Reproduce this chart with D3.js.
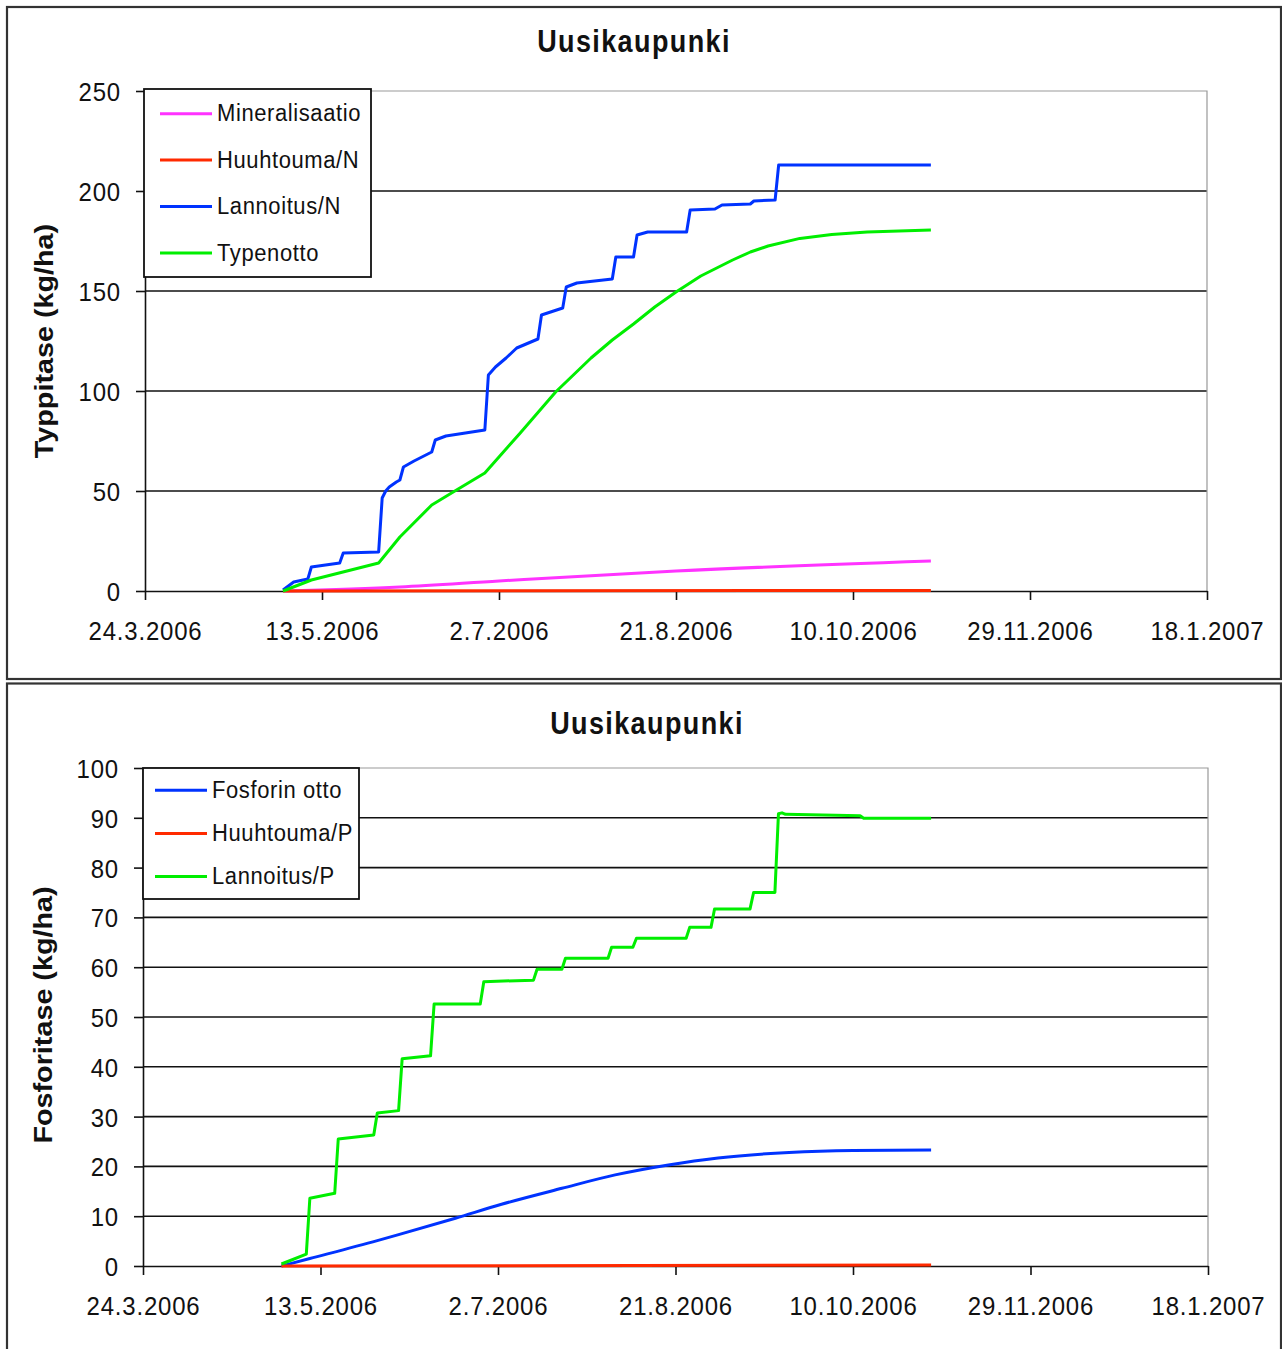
<!DOCTYPE html>
<html>
<head>
<meta charset="utf-8">
<script src="https://cdn.jsdelivr.net/npm/d3@7"></script>
<style>
  body { margin: 0; background: #fff; }
  svg { display: block; }
  text { font-family: "Liberation Sans", Arial, sans-serif; fill: #111; }
</style>
</head>
<body>
<svg id="chart" width="1282" height="1349"></svg>
<script>
// ---- shared x-axis (dates, 50-day steps) ----
const dateTicks = ["2006-03-24", "2006-05-13", "2006-07-02", "2006-08-21", "2006-10-10", "2006-11-29", "2007-01-18"];

// ---- nitrogen balance, kg/ha ----
const nTicks = [0, 50, 100, 150, 200, 250];
const nNames = ["Mineralisaatio", "Huuhtouma/N", "Lannoitus/N", "Typenotto"];

const mineralisaatio = [
  ["2006-05-02", 0], ["2006-06-04", 2], ["2006-07-02", 5],
  ["2006-08-21", 10], ["2006-11-01", 15]
];
const huuhtoumaN = [["2006-05-02", 0], ["2006-11-01", 0.3]];
const lannoitusN = [
  ["2006-05-02", 0.5], ["2006-05-05", 4.5], ["2006-05-09", 6], ["2006-05-10", 12],
  ["2006-05-12", 12.5], ["2006-05-18", 14], ["2006-05-19", 19], ["2006-05-29", 19.5],
  ["2006-05-30", 46.5], ["2006-05-31", 50], ["2006-06-01", 52], ["2006-06-03", 54.5],
  ["2006-06-04", 55.5], ["2006-06-05", 62], ["2006-06-08", 65], ["2006-06-13", 69.5],
  ["2006-06-14", 75.5], ["2006-06-17", 77.5], ["2006-06-28", 80.5], ["2006-06-29", 108],
  ["2006-07-01", 112], ["2006-07-04", 116.5], ["2006-07-07", 121.5], ["2006-07-13", 126],
  ["2006-07-14", 138], ["2006-07-20", 141.5], ["2006-07-21", 152], ["2006-07-24", 154],
  ["2006-08-03", 156], ["2006-08-04", 167], ["2006-08-09", 167], ["2006-08-10", 178],
  ["2006-08-13", 179.5], ["2006-08-24", 179.5], ["2006-08-25", 190.5], ["2006-09-01", 191],
  ["2006-09-03", 193], ["2006-09-11", 193.5], ["2006-09-12", 195], ["2006-09-18", 195.5],
  ["2006-09-19", 213], ["2006-11-01", 213]
];
const typenotto = [
  ["2006-05-02", 0], ["2006-05-10", 5.5], ["2006-05-29", 14], ["2006-06-04", 27],
  ["2006-06-13", 43], ["2006-06-20", 50.5], ["2006-06-28", 59], ["2006-07-08", 79],
  ["2006-07-18", 99.5], ["2006-07-28", 116.5], ["2006-08-03", 125.5], ["2006-08-09", 133.5],
  ["2006-08-15", 142], ["2006-08-21", 149.5], ["2006-08-28", 157.5], ["2006-09-06", 165.5],
  ["2006-09-11", 169.5], ["2006-09-16", 172.5], ["2006-09-25", 176.3], ["2006-10-04", 178.3],
  ["2006-10-14", 179.5], ["2006-11-01", 180.5]
];

// ---- phosphorus balance, kg/ha ----
const pTicks = [0, 10, 20, 30, 40, 50, 60, 70, 80, 90, 100];
const pNames = ["Fosforin otto", "Huuhtouma/P", "Lannoitus/P"];

const fosforinOtto = [
  ["2006-05-02", 0], ["2006-05-10", 1.5], ["2006-05-29", 5.1], ["2006-06-04", 6.3],
  ["2006-06-20", 9.6], ["2006-07-03", 12.4], ["2006-07-20", 15.6], ["2006-08-04", 18.3],
  ["2006-08-19", 20.3], ["2006-09-02", 21.7], ["2006-09-22", 22.8], ["2006-10-10", 23.2],
  ["2006-11-01", 23.3]
];
const huuhtoumaP = [["2006-05-02", 0], ["2006-11-01", 0.2]];
const lannoitusP = [
  ["2006-05-02", 0.4], ["2006-05-09", 2.4], ["2006-05-10", 13.6], ["2006-05-17", 14.6],
  ["2006-05-18", 25.5], ["2006-05-28", 26.3], ["2006-05-29", 30.7], ["2006-06-04", 31.2],
  ["2006-06-05", 41.6], ["2006-06-13", 42.2], ["2006-06-14", 52.6], ["2006-06-27", 52.6],
  ["2006-06-28", 57.1], ["2006-07-12", 57.4], ["2006-07-13", 59.6], ["2006-07-20", 59.6],
  ["2006-07-21", 61.8], ["2006-08-02", 61.8], ["2006-08-03", 64], ["2006-08-09", 64],
  ["2006-08-10", 65.8], ["2006-08-24", 65.8], ["2006-08-25", 68], ["2006-08-31", 68],
  ["2006-09-01", 71.7], ["2006-09-11", 71.7], ["2006-09-12", 75], ["2006-09-18", 75],
  ["2006-09-19", 90.8], ["2006-09-20", 91], ["2006-09-21", 90.7], ["2006-10-12", 90.4],
  ["2006-10-13", 89.9], ["2006-11-01", 89.9]
];

// ---- styling ----
const colorsN = ["#ff33ff", "#ff2a00", "#0033ff", "#00ee00"];
const colorsP = ["#0033ff", "#ff2a00", "#00ee00"];
// mineralisation and P uptake are smooth; the others keep their corners
const curvesN = [d3.curveMonotoneX, d3.curveLinear, d3.curveLinear, d3.curveLinear];
const curvesP = [d3.curveMonotoneX, d3.curveLinear, d3.curveLinear];

const parseDate = d3.timeParse("%Y-%m-%d");
const fmtDate = d3.timeFormat("%-d.%-m.%Y");
const svg = d3.select("#chart");

const panels = [
  {
    title: "Uusikaupunki", yLabel: "Typpitase (kg/ha)",
    ticks: nTicks, names: nNames, colors: colorsN, curves: curvesN,
    series: [mineralisaatio, huuhtoumaN, lannoitusN, typenotto],
    frame: { x: 7, y: 7, w: 1274, h: 672 },
    plot: { left: 145, right: 1207, top: 91, bottom: 591 },
    legend: { x: 144, y: 89, w: 227, h: 188, l1: 160, l2: 212, tx: 217, row0: 112.5, step: 46.4 },
    titlePos: { x: 634, y: 51.5 }, yTitlePos: { x: 53, y: 341 }
  },
  {
    title: "Uusikaupunki", yLabel: "Fosforitase (kg/ha)",
    ticks: pTicks, names: pNames, colors: colorsP, curves: curvesP,
    series: [fosforinOtto, huuhtoumaP, lannoitusP],
    frame: { x: 7, y: 683.5, w: 1274, h: 680 },
    plot: { left: 143, right: 1208, top: 768, bottom: 1266 },
    legend: { x: 143, y: 768, w: 216, h: 131, l1: 155, l2: 207, tx: 212, row0: 789, step: 43.2 },
    titlePos: { x: 647, y: 734 }, yTitlePos: { x: 52, y: 1015 }
  }
];

function drawPanel(p) {
  const g = svg.append("g");

  // panel frame
  g.append("rect")
    .attr("x", p.frame.x).attr("y", p.frame.y)
    .attr("width", p.frame.w).attr("height", p.frame.h)
    .attr("fill", "#fff").attr("stroke", "#333").attr("stroke-width", 2.2);

  const x = d3.scaleTime()
    .domain([parseDate(dateTicks[0]), parseDate(dateTicks[dateTicks.length - 1])])
    .range([p.plot.left, p.plot.right]);
  const y = d3.scaleLinear()
    .domain([0, d3.max(p.ticks)])
    .range([p.plot.bottom, p.plot.top]);

  // horizontal gridlines
  g.append("g").selectAll("line")
    .data(p.ticks.slice(1, -1))
    .join("line")
    .attr("x1", p.plot.left).attr("x2", p.plot.right)
    .attr("y1", d => y(d)).attr("y2", d => y(d))
    .attr("stroke", "#111").attr("stroke-width", 1.6);

  // plot-area border (top and right)
  g.append("path")
    .attr("d", `M${p.plot.left},${y(d3.max(p.ticks))}H${p.plot.right}V${p.plot.bottom}`)
    .attr("fill", "none").attr("stroke", "#999").attr("stroke-width", 1.2);

  // x axis
  const xAxis = g.append("g")
    .attr("transform", `translate(0,${p.plot.bottom})`)
    .call(d3.axisBottom(x)
      .tickValues(dateTicks.map(parseDate))
      .tickFormat(fmtDate)
      .tickSize(9).tickSizeOuter(0));
  xAxis.selectAll("path, line").attr("stroke", "#111").attr("stroke-width", 1.6);
  xAxis.selectAll(".tick text")
    .attr("y", 0).attr("dy", 0)
    .attr("transform", "translate(0,49) scale(1,1.1)")
    .style("font-size", "24px").style("letter-spacing", "0.8px")
    .attr("fill", "#1a1a1a");

  // y axis
  const yAxis = g.append("g")
    .attr("transform", `translate(${p.plot.left},0)`)
    .call(d3.axisLeft(y)
      .tickValues(p.ticks)
      .tickSize(9).tickSizeOuter(0));
  yAxis.selectAll("path, line").attr("stroke", "#111").attr("stroke-width", 1.6);
  yAxis.selectAll(".tick text")
    .attr("x", 0).attr("dy", "0.358em")
    .attr("transform", "translate(-24,0) scale(1,1.1)")
    .style("font-size", "24px").style("letter-spacing", "0.8px")
    .attr("fill", "#1a1a1a");

  // series
  g.append("g").selectAll("path")
    .data(p.series)
    .join("path")
    .attr("d", (d, i) => d3.line()
      .x(e => x(parseDate(e[0])))
      .y(e => y(e[1]))
      .curve(p.curves[i])(d))
    .attr("fill", "none")
    .attr("stroke", (d, i) => p.colors[i])
    .attr("stroke-width", 3)
    .attr("stroke-linejoin", "round");

  // legend
  const L = p.legend;
  const lg = g.append("g");
  lg.append("rect")
    .attr("x", L.x).attr("y", L.y).attr("width", L.w).attr("height", L.h)
    .attr("fill", "#fff").attr("stroke", "#111").attr("stroke-width", 1.8);
  const items = lg.selectAll("g.item")
    .data(p.names)
    .join("g").attr("class", "item");
  items.append("line")
    .attr("x1", L.l1).attr("x2", L.l2)
    .attr("y1", (d, i) => L.row0 + i * L.step + 1.2)
    .attr("y2", (d, i) => L.row0 + i * L.step + 1.2)
    .attr("stroke", (d, i) => p.colors[i]).attr("stroke-width", 3);
  items.append("text")
    .attr("transform", (d, i) => `translate(${L.tx},${L.row0 + i * L.step + 8.8}) scale(1,1.12)`)
    .style("font-size", "22px").style("letter-spacing", "0.6px")
    .text(d => d);

  // chart title
  g.append("text")
    .attr("transform", `translate(${p.titlePos.x},${p.titlePos.y}) scale(1,1.15)`)
    .attr("text-anchor", "middle")
    .style("font-size", "27px").style("font-weight", "bold").style("letter-spacing", "1.4px")
    .text(p.title);

  // y-axis title
  g.append("g")
    .attr("transform", `translate(${p.yTitlePos.x},${p.yTitlePos.y}) rotate(-90)`)
    .append("text")
    .attr("transform", "scale(1.15,1)")
    .attr("text-anchor", "middle")
    .style("font-size", "25px").style("font-weight", "bold")
    .text(p.yLabel);
}

panels.forEach(drawPanel);
</script>
</body>
</html>
